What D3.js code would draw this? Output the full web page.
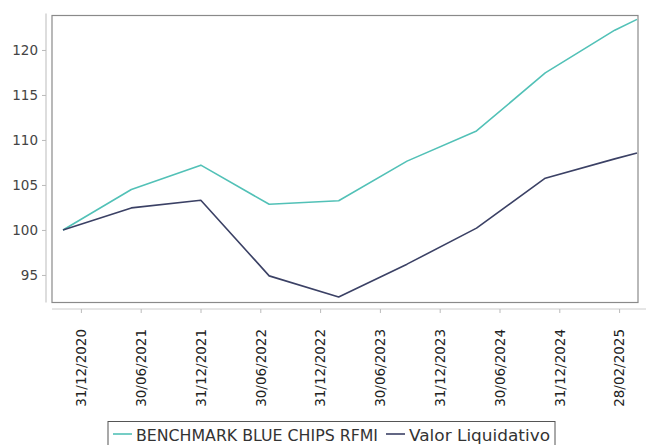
<!DOCTYPE html>
<html><head><meta charset="utf-8">
<script src="https://cdn.jsdelivr.net/npm/d3@7"></script>
<style>body{margin:0;background:#fff}svg{display:block}text{font-family:"DejaVu Sans",sans-serif}</style>
</head><body><svg id="c" width="646" height="445"></svg>
<script>
const dates = ["2020-12-31","2021-06-30","2021-12-31","2022-06-30","2022-12-31","2023-06-30","2023-12-31","2024-06-30","2024-12-31","2025-02-28"];
const tickLabels = ["31/12/2020","30/06/2021","31/12/2021","30/06/2022","31/12/2022","30/06/2023","31/12/2023","30/06/2024","31/12/2024","28/02/2025"];
const benchmark = [100, 104.5, 107.2, 102.85, 103.25, 107.65, 111.0, 117.45, 122.2, 123.4];
const valor = [100, 102.45, 103.3, 94.9, 92.55, 96.2, 100.2, 105.75, 107.9, 108.55];
const yTicks = [95, 100, 105, 110, 115, 120];
const seriesNames = ["BENCHMARK BLUE CHIPS RFMI", "Valor Liquidativo"];
const legendWidths = [242, 141];
const colors = ["#52c1b7", "#3b4165"];

const svg = d3.select("#c");
const plot = {left: 52, top: 15.5, right: 638, bottom: 302.5};
const parse = d3.timeParse("%Y-%m-%d");
const dd = dates.map(parse);
const x = d3.scaleTime().domain(d3.extent(dd)).range([63, 637]);
const y = d3.scaleLinear().domain([91.94, 123.83]).range([plot.bottom, plot.top]);
const xc = d3.scalePoint().domain(tickLabels).range([51, 649]).padding(0.5);

// plot border
svg.append("rect").attr("x", plot.left).attr("y", plot.top)
  .attr("width", plot.right - plot.left).attr("height", plot.bottom - plot.top)
  .attr("fill", "none").attr("stroke", "#8a8a8a").attr("stroke-width", 1.2);

// y axis
const ya = svg.append("g").attr("transform", "translate(46,0)")
  .call(d3.axisLeft(y).tickValues(yTicks).tickSize(4).tickPadding(4));
ya.select(".domain").attr("stroke", "#bbb").attr("d", `M0,${plot.top - 2}V${plot.bottom}`);
ya.selectAll(".tick line").attr("stroke", "#bbb");
ya.selectAll("text").attr("fill", "#444").style("font-size", "13.5px");

// x axis (category)
const xa = svg.append("g").attr("transform", "translate(0,309)")
  .call(d3.axisBottom(xc).tickSize(4).tickPadding(0));
xa.select(".domain").attr("stroke", "#ccc").attr("d", "M52,0H646");
xa.selectAll(".tick line").attr("stroke", "#bbb");
xa.selectAll("text").attr("fill", "#222").style("font-size", "13.5px")
  .attr("transform", "rotate(-90)").attr("text-anchor", "end")
  .attr("x", -20).attr("y", 0).attr("dy", "0.35em");

// lines
const line = d3.line().x((d, i) => x(dd[i])).y(d => y(d));
[benchmark, valor].forEach((s, k) => {
  svg.append("path").datum(s).attr("d", line).attr("fill", "none")
    .attr("stroke", colors[k]).attr("stroke-width", 1.6).attr("stroke-linejoin", "round");
});

// legend
const lg = svg.append("g");
const box = lg.append("rect").attr("y", 421.5).attr("height", 30).attr("fill", "#fff").attr("stroke", "#555");
let cx = 113;
seriesNames.forEach((n, k) => {
  lg.append("line").attr("x1", cx).attr("x2", cx + 19).attr("y1", 434).attr("y2", 434)
    .attr("stroke", colors[k]).attr("stroke-width", 1.6);
  lg.append("text").attr("x", cx + 23).attr("y", 441).text(n)
    .attr("textLength", legendWidths[k]).attr("lengthAdjust", "spacingAndGlyphs")
    .attr("fill", "#333").style("font-size", "16px");
  cx += 23 + legendWidths[k] + 8;
});
box.attr("x", 108).attr("width", cx - 8 + 5 - 108);
</script></body></html>
